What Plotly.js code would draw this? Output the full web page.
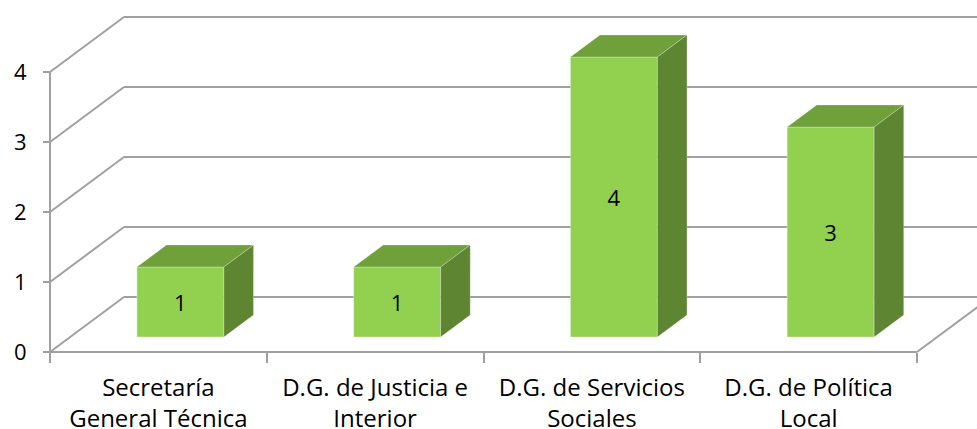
<!DOCTYPE html>
<html>
<head>
<meta charset="utf-8">
<script src="https://cdn.plot.ly/plotly-3.0.1.min.js"></script>
<style>
  html, body { margin: 0; padding: 0; background: #ffffff; }
  #chart { width: 977px; height: 429px; }
</style>
</head>
<body>
<div id="chart"></div>
<script>
// Chart data
const categories = [
  'Secretaría<br>General Técnica',
  'D.G. de Justicia e<br>Interior',
  'D.G. de Servicios<br>Sociales',
  'D.G. de Política<br>Local'
];
const values = [1, 1, 4, 3];
const yTicks = [0, 1, 2, 3, 4];

// Layout geometry (pixels)
const W = 977, H = 429;
const ML = 46, MR = 0, MT = 10, MB = 73;
const PX_X = 216.75;          // pixels per category
const PX_Y = 70;              // pixels per unit of value
const PAD = 4;                // room kept left of / below the front corner

// Oblique depth of the chart box, in data units
const DX = 74 / PX_X;
const DY = 55 / PX_Y;
// Bar depth placement (fractions of the box depth) and bar size
const F0 = 15 / 55;           // front face of the bars
const FD = 22 / 55;           // bar depth
const BAR_W = 87 / PX_X;
const BAR_SHIFT = 22 / PX_X;

const xMin = -0.5 - PAD / PX_X;
const xMax = xMin + (W - ML - MR) / PX_X;
const yMin = -PAD / PX_Y;
const yMax = yMin + (H - MT - MB) / PX_Y;

const nCat = categories.length;
const xLeft = -0.5, xRight = nCat - 0.5;
const yTop = yTicks[yTicks.length - 1];

const GRID = '#A0A0A0';
const FRONT = '#92D050';
const TOP = '#70A03A';
const SIDE = '#5E8632';
const FONT = 'Open Sans, Noto Sans, sans-serif';

// Walls and floor lines
const shapes = [];
const line = (x0, y0, x1, y1) => shapes.push({
  type: 'line', xref: 'x', yref: 'y', layer: 'below',
  x0: x0, y0: y0, x1: x1, y1: y1,
  line: { color: GRID, width: 2 }
});
yTicks.forEach(v => {
  // back wall gridline
  line(xLeft + DX, v + DY, xMax + 1, v + DY);
  // side wall gridline
  line(xLeft, v, xLeft + DX, v + DY);
});
// front vertical axis line
line(xLeft, 0, xLeft, yTop);
// floor: front edge and right edge
line(xLeft, 0, xRight, 0);
line(xRight, 0, xRight + DX, DY);

// Front faces of the columns
const xFront = values.map((v, i) => i + BAR_SHIFT);
const frontTrace = {
  type: 'bar',
  x: xFront,
  y: values,
  base: values.map(() => F0 * DY),
  width: values.map(() => BAR_W),
  marker: { color: FRONT, line: { color: 'rgba(255,255,255,0.35)', width: 1 } },
  text: values.map(String),
  textposition: 'inside',
  insidetextanchor: 'middle',
  textangle: 0,
  insidetextfont: { color: '#000000', size: 22, family: FONT },
  hoverinfo: 'skip',
  showlegend: false
};

// Top and side faces, projected from the same values
const faceTraces = [];
values.forEach((v, i) => {
  const xl = xFront[i] - BAR_W / 2;
  const xr = xFront[i] + BAR_W / 2;
  const yb = F0 * DY;
  const yt = v + F0 * DY;
  const ddx = FD * DX, ddy = FD * DY;
  faceTraces.push({
    type: 'scatter', mode: 'lines', fill: 'toself',
    x: [xl, xr, xr + ddx, xl + ddx, xl],
    y: [yt, yt, yt + ddy, yt + ddy, yt],
    fillcolor: TOP, line: { color: 'rgba(255,255,255,0.25)', width: 1 },
    hoverinfo: 'skip', showlegend: false
  });
  faceTraces.push({
    type: 'scatter', mode: 'lines', fill: 'toself',
    x: [xr, xr + ddx, xr + ddx, xr, xr],
    y: [yb, yb + ddy, yt + ddy, yt, yb],
    fillcolor: SIDE, line: { color: 'rgba(255,255,255,0.25)', width: 1 },
    hoverinfo: 'skip', showlegend: false
  });
});

const plotW = W - ML - MR, plotH = H - MT - MB;

const layout = {
  width: W, height: H,
  margin: { l: ML, r: MR, t: MT, b: MB, pad: 0 },
  paper_bgcolor: '#ffffff',
  plot_bgcolor: 'rgba(0,0,0,0)',
  showlegend: false,
  font: { family: FONT, color: '#000000', size: 22 },
  xaxis: {
    range: [xMin, xMax],
    anchor: 'free',
    position: PAD / plotH,
    showgrid: false, zeroline: false, showline: false,
    tickmode: 'array',
    tickvals: categories.map((c, i) => i),
    ticktext: categories,
    ticks: '',
    ticklabelstandoff: 19,
    tickfont: { family: FONT, size: 24, color: '#000000' },
    minor: {
      tickvals: Array.from({ length: nCat + 1 }, (_, k) => k - 0.5),
      ticks: 'outside', ticklen: 10, tickwidth: 2, tickcolor: GRID, showgrid: false
    },
    fixedrange: true
  },
  yaxis: {
    range: [yMin, yMax],
    anchor: 'free',
    position: PAD / plotW,
    showgrid: false, zeroline: false, showline: false,
    tickmode: 'array',
    tickvals: yTicks,
    ticks: 'outside', ticklen: 7, tickwidth: 2, tickcolor: GRID,
    ticklabelstandoff: 12,
    tickfont: { family: FONT, size: 22, color: '#000000' },
    fixedrange: true
  },
  shapes: shapes
};

Plotly.newPlot('chart', [frontTrace].concat(faceTraces), layout, { displayModeBar: false, staticPlot: true });
</script>
</body>
</html>
